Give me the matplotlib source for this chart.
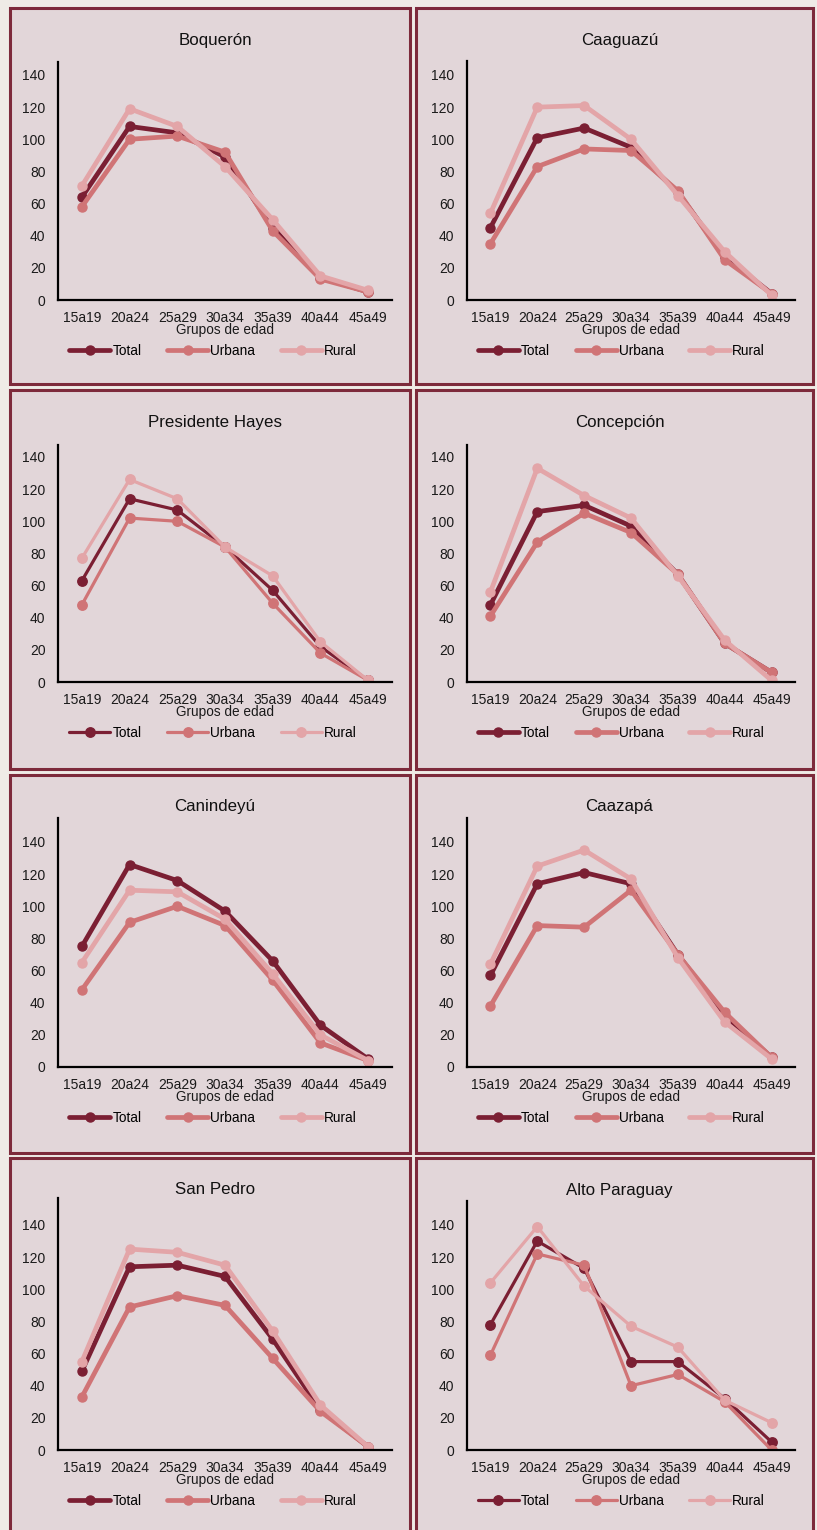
import numpy as np
import matplotlib
matplotlib.use("Agg")
import matplotlib.pyplot as plt
from matplotlib.patches import Rectangle

plt.rcParams['font.family'] = ['Liberation Sans', 'DejaVu Sans']

grupos = ['15a19', '20a24', '25a29', '30a34', '35a39', '40a44', '45a49']
series_names = ['Total', 'Urbana', 'Rural']

departamentos = ['Boquerón', 'Caaguazú', 'Presidente Hayes', 'Concepción',
                 'Canindeyú', 'Caazapá', 'San Pedro', 'Alto Paraguay']

total = [
    [64, 108, 104, 89, 45, 14, 5],
    [45, 101, 107, 95, 67, 27, 4],
    [63, 114, 107, 84, 57, 22, 1],
    [48, 106, 110, 97, 67, 24, 6],
    [75, 126, 116, 97, 66, 26, 5],
    [57, 114, 121, 114, 70, 32, 6],
    [49, 114, 115, 108, 69, 25, 2],
    [78, 130, 113, 55, 55, 32, 5],
]
urbana = [
    [58, 100, 102, 92, 43, 13, 5],
    [35, 83, 94, 93, 68, 25, 4],
    [48, 102, 100, 84, 49, 18, 1],
    [41, 87, 105, 93, 67, 24, 6],
    [48, 90, 100, 88, 54, 15, 4],
    [38, 88, 87, 110, 70, 34, 6],
    [33, 89, 96, 90, 57, 24, 2],
    [59, 122, 115, 40, 47, 30, 0],
]
rural = [
    [71, 119, 108, 83, 50, 15, 6],
    [54, 120, 121, 100, 65, 30, 3],
    [77, 126, 114, 84, 66, 25, 1],
    [56, 133, 116, 102, 66, 26, 1],
    [65, 110, 109, 92, 58, 20, 4],
    [64, 125, 135, 117, 68, 28, 5],
    [55, 125, 123, 115, 74, 28, 2],
    [104, 139, 102, 77, 64, 31, 17],
]

colors = ['#7b1f33', '#d07476', '#e3a5a8']
ytops = [148, 149, 147.5, 147.5, 155, 155, 156.5, 155]
thin = [False, False, True, False, False, False, False, True]

W, H = 817, 1530
fig = plt.figure(figsize=(W / 100, H / 100), dpi=100)
fig.patch.set_facecolor('#efebe6')

cols = [(10, 410), (416, 813)]
rows = [(8, 384), (390, 769), (775, 1153), (1158, 1545)]
px_per_140 = 225.0


def fx(x):
    return x / W


def fy(y):
    return 1 - y / H


for i, name in enumerate(departamentos):
    r, c = divmod(i, 2)
    x0, x1 = cols[c]
    y0, y1 = rows[r]
    fig.patches.append(Rectangle((fx(x0), fy(y1)), fx(x1 - x0), (y1 - y0) / H,
                                 transform=fig.transFigure, facecolor='#e2d6d9',
                                 edgecolor='#7d2a3b', lw=2.2, zorder=-5))

    ax_l = x0 + 48 + 3 * c
    ax_r = x1 - 18
    ax_b = y0 + 292
    ax_t = ax_b - px_per_140 * ytops[i] / 140
    ax = fig.add_axes([fx(ax_l), fy(ax_b), fx(ax_r - ax_l), (ax_b - ax_t) / H])
    ax.set_facecolor('none')
    ax.set_zorder(2)

    lw = 2.3 if thin[i] else 3.4
    ms = 6.8 if thin[i] else 6.5
    x = np.arange(len(grupos))
    for vals, lab, col in zip([total[i], urbana[i], rural[i]], series_names, colors):
        ax.plot(x, vals, color=col, lw=lw, marker='o', ms=ms, label=lab,
                solid_capstyle='round', solid_joinstyle='round')

    ax.set_xlim(-0.5, 6.5)
    ax.set_ylim(0, ytops[i])
    ax.set_yticks(range(0, 141, 20))
    ax.set_xticks(x)
    ax.set_xticklabels(grupos)
    ax.tick_params(length=0, labelsize=10, colors='#1a1a1a')
    ax.tick_params(axis='y', pad=9)
    ax.tick_params(axis='x', pad=8)
    for s in ['top', 'right']:
        ax.spines[s].set_visible(False)
    for s in ['left', 'bottom']:
        ax.spines[s].set_linewidth(1.6)
        ax.spines[s].set_color('black')

    cx = (x0 + x1) / 2 + 5
    fig.text(fx(cx), fy(y0 + 32), name, ha='center', va='center', fontsize=12.2,
             color='#111111', zorder=3)
    fig.text(fx((ax_l + ax_r) / 2), fy(ax_b + 30), 'Grupos de edad', ha='center',
             va='center', fontsize=9.8, color='#1a1a1a', zorder=3)
    ax.legend(loc='center', bbox_to_anchor=(fx(cx - 2 + 4 * c), fy(ax_b + 51)),
              bbox_transform=fig.transFigure, ncol=3, frameon=False,
              fontsize=9.8, handlelength=3.0, handletextpad=0.15,
              columnspacing=1.9, borderpad=0)

fig.savefig('out.png', dpi=100, facecolor=fig.get_facecolor())
